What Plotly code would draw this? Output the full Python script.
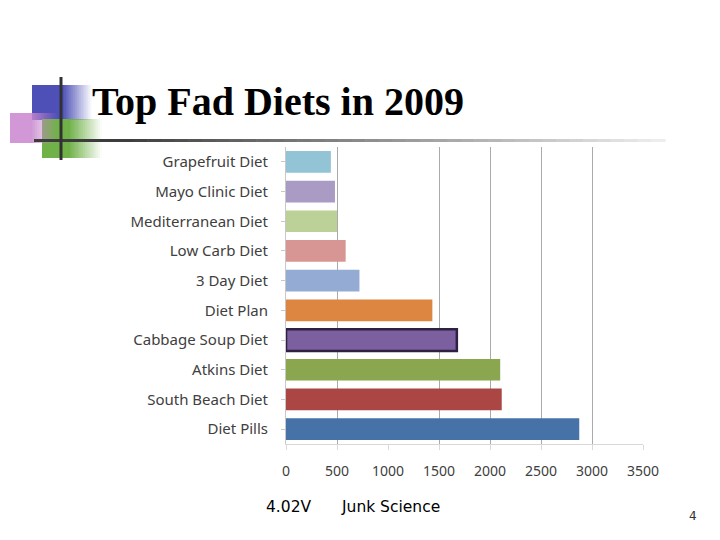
import plotly.graph_objects as go

categories = ["Grapefruit Diet", "Mayo Clinic Diet", "Mediterranean Diet", "Low Carb Diet",
              "3 Day Diet", "Diet Plan", "Cabbage Soup Diet", "Atkins Diet",
              "South Beach Diet", "Diet Pills"]
values = [440, 480, 500, 585, 720, 1435, 1675, 2100, 2115, 2875]
bar_colors = ["#93C4D6", "#A99BC4", "#BBD198", "#D79694", "#94ABD3", "#DC8642",
              "#7B5F9E", "#8AA64E", "#AA4744", "#4672A8"]
line_colors = ["rgba(0,0,0,0)"] * 6 + ["#2E2142"] + ["rgba(0,0,0,0)"] * 3
line_widths = [0, 0, 0, 0, 0, 0, 2.5, 0, 0, 0]
x_ticks = [0, 500, 1000, 1500, 2000, 2500, 3000, 3500]
grid_ticks = [500, 1500, 2000, 2500, 3000, 3500]
title_text = "Top Fad Diets in 2009"
footer_left = "4.02V"
footer_mid = "Junk Science"
page_num = "4"

W, H = 720, 540
ML, MR, MT, MB = 286, 77, 147, 96
PW, PH = W - ML - MR, H - MT - MB

fig = go.Figure()
fig.add_trace(go.Bar(
    y=categories, x=values, orientation="h",
    marker=dict(color=bar_colors, line=dict(color=line_colors, width=line_widths)),
    width=0.73, hoverinfo="x+y",
))
# empty helper trace so the overlaying grid axis is drawn
fig.add_trace(go.Scatter(x=[None], y=[None], xaxis="x2", mode="markers",
                         showlegend=False, hoverinfo="skip"))

def px(x):
    return (x - ML) / PW

def py(y):
    return (H - MB - y) / PH

shapes = []

def fade_rect(x0, x1, xs, y0, y1, rgb, steps=16, start_alpha=1.0):
    shapes.append(dict(type="rect", xref="paper", yref="paper",
                       x0=px(x0), x1=px(xs), y0=py(y1), y1=py(y0),
                       fillcolor=f"rgba({rgb[0]},{rgb[1]},{rgb[2]},{start_alpha})",
                       line=dict(width=0), layer="above"))
    w = (x1 - xs) / steps
    targets = [start_alpha * (1 - (i + 0.5) / steps) for i in range(steps)]
    T = [1 - t for t in targets]
    alphas = [0.0] * steps
    for i in range(steps - 1, -1, -1):
        nxt = T[i + 1] if i + 1 < steps else 1.0
        alphas[i] = 1 - T[i] / nxt
    for k in range(steps):
        shapes.append(dict(type="rect", xref="paper", yref="paper",
                           x0=px(xs), x1=px(xs + (k + 1) * w), y0=py(y1), y1=py(y0),
                           fillcolor=f"rgba({rgb[0]},{rgb[1]},{rgb[2]},{alphas[k]:.4f})",
                           line=dict(width=0), layer="above"))

fade_rect(32, 92, 62, 85, 120, (78, 80, 184))
fade_rect(42, 102, 68, 119, 158, (112, 178, 72))
fade_rect(10, 58, 30, 113, 143, (204, 140, 210), start_alpha=0.9)

hsteps = 40
hx0, hs, hx1 = 34, 120, 665
shapes.append(dict(type="line", xref="paper", yref="paper", x0=px(hx0), x1=px(hs),
                   y0=py(140.5), y1=py(140.5), line=dict(color="rgb(60,60,60)", width=3)))
seg = (hx1 - hs) / hsteps
for i in range(hsteps):
    a = 1 - (i + 0.5) / hsteps
    g = int(60 + (240 - 60) * (1 - a))
    shapes.append(dict(type="line", xref="paper", yref="paper",
                       x0=px(hs + i * seg), x1=px(hs + (i + 1) * seg + 0.6),
                       y0=py(140.5), y1=py(140.5), line=dict(color=f"rgb({g},{g},{g})", width=3)))
shapes.append(dict(type="line", xref="paper", yref="paper", x0=px(61), x1=px(61),
                   y0=py(77), y1=py(160), line=dict(color="rgb(50,50,50)", width=3)))

fig.update_layout(
    width=W, height=H,
    margin=dict(l=ML, r=MR, t=MT, b=MB),
    paper_bgcolor="white", plot_bgcolor="white",
    showlegend=False,
    bargap=0.27,
    shapes=shapes,
    font=dict(family="Noto Sans, sans-serif", color="#404040"),
    xaxis=dict(range=[0, 3500], tickvals=x_ticks, ticktext=[str(t) for t in x_ticks],
               showgrid=False,
               showline=True, linecolor="#D9D9D9", linewidth=1,
               ticks="outside", ticklen=5, tickcolor="#D9D9D9",
               tickfont=dict(size=14, color="#404040", family="Noto Sans, sans-serif"),
               ticklabelstandoff=9,
               zeroline=False, fixedrange=True),
    xaxis2=dict(overlaying="x", matches="x", side="bottom", range=[0, 3500],
                tickvals=grid_ticks, showticklabels=False, ticks="",
                showgrid=True, gridcolor="#AAAAAA", gridwidth=1,
                showline=False, zeroline=False, fixedrange=True),
    yaxis=dict(autorange="reversed", showline=True, linecolor="#C8C8C8", linewidth=1,
               ticks="outside", ticklen=4, tickcolor="#C8C8C8",
               tickfont=dict(size=15, color="#404040", family="Noto Sans, sans-serif"),
               ticklabelstandoff=10, fixedrange=True),
    annotations=[
        dict(text=f"<b>{title_text}</b>", xref="paper", yref="paper",
             x=px(90), y=py(101), xanchor="left", yanchor="middle", showarrow=False,
             font=dict(family="Liberation Serif, Times New Roman, serif", size=40, color="black")),
        dict(text=footer_left, xref="paper", yref="paper", x=px(264), y=py(507),
             xanchor="left", yanchor="middle", showarrow=False,
             font=dict(family="DejaVu Sans, sans-serif", size=15.5, color="black")),
        dict(text=footer_mid, xref="paper", yref="paper", x=px(339), y=py(507),
             xanchor="left", yanchor="middle", showarrow=False,
             font=dict(family="DejaVu Sans, sans-serif", size=15.5, color="black")),
        dict(text=page_num, xref="paper", yref="paper", x=px(693), y=py(516),
             xanchor="center", yanchor="middle", showarrow=False,
             font=dict(family="DejaVu Sans, sans-serif", size=12, color="#333333")),
    ],
)

fig.write_html("out.html", config={"displayModeBar": False},
               post_script="document.body.style.margin='0';")
